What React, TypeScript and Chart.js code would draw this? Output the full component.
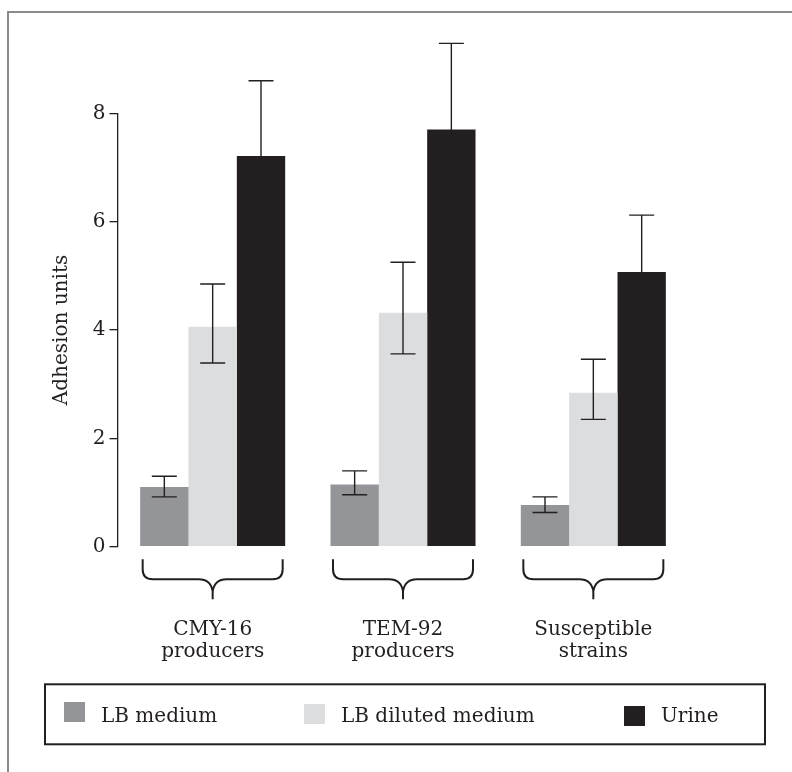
import React, { useEffect, useRef } from "react";
import { Chart, registerables } from "chart.js";

Chart.register(...registerables);

// ---- data ----
const categories: string[][] = [
  ["CMY-16", "producers"],
  ["TEM-92", "producers"],
  ["Susceptible", "strains"],
];
const seriesNames = ["LB medium", "LB diluted medium", "Urine"];

const lbMedium = [1.1, 1.15, 0.77];
const lbMediumHigh = [1.3, 1.4, 0.92];
const lbMediumLow = [0.92, 0.96, 0.63];

const lbDiluted = [4.06, 4.32, 2.84];
const lbDilutedHigh = [4.85, 5.25, 3.46];
const lbDilutedLow = [3.39, 3.56, 2.35];

const urine = [7.21, 7.7, 5.07];
const urineHigh = [8.6, 9.29, 6.12];
const urineLow = [5.82, 6.11, 4.02];

const yTicks = [0, 2, 4, 6, 8];
const yTitle = "Adhesion units";

// ---- styles ----
const FONT = "'DejaVu Serif', serif";
const INK = "#231f20";
const colors = ["#939598", "#dcddde", "#231f20"];

const highs = [lbMediumHigh, lbDilutedHigh, urineHigh];
const lows = [lbMediumLow, lbDilutedLow, urineLow];

const frame = {
  id: "frame",
  beforeDraw(chart: any) {
    const { ctx, width, height } = chart;
    ctx.save();
    ctx.strokeStyle = "#8a8a8a";
    ctx.lineWidth = 2;
    ctx.beginPath();
    ctx.moveTo(8, height);
    ctx.lineTo(8, 12);
    ctx.lineTo(width, 12);
    ctx.stroke();
    ctx.restore();
  },
};

const errorBars = {
  id: "errorBars",
  afterDatasetsDraw(chart: any) {
    const { ctx } = chart;
    const y = chart.scales.y;
    ctx.save();
    ctx.strokeStyle = INK;
    ctx.lineWidth = 1.4;
    chart.data.datasets.forEach((_: any, i: number) => {
      const meta = chart.getDatasetMeta(i);
      meta.data.forEach((el: any, j: number) => {
        const x = el.x;
        const yh = y.getPixelForValue(highs[i][j]);
        const yl = y.getPixelForValue(lows[i][j]);
        const cap = 12.5;
        ctx.beginPath();
        ctx.moveTo(x, yh);
        ctx.lineTo(x, yl);
        ctx.moveTo(x - cap, yh);
        ctx.lineTo(x + cap, yh);
        ctx.moveTo(x - cap, yl);
        ctx.lineTo(x + cap, yl);
        ctx.stroke();
      });
    });
    ctx.restore();
  },
};

const braces = {
  id: "braces",
  afterDraw(chart: any) {
    const { ctx, chartArea } = chart;
    const xs = chart.scales.x;
    const half = 70;
    const r = 10;
    const top = chartArea.bottom + 12.6;
    const mid = top + 20;
    ctx.save();
    ctx.strokeStyle = INK;
    ctx.lineWidth = 2;
    ctx.lineJoin = "round";
    categories.forEach((_, j) => {
      const cx = xs.getPixelForValue(j);
      const L = cx - half;
      const R = cx + half;
      ctx.beginPath();
      ctx.moveTo(L, top);
      ctx.lineTo(L, mid - r);
      ctx.quadraticCurveTo(L, mid, L + r, mid);
      ctx.lineTo(cx - 14, mid);
      ctx.quadraticCurveTo(cx - 2, mid, cx, mid + 12);
      ctx.lineTo(cx, mid + 20);
      ctx.moveTo(R, top);
      ctx.lineTo(R, mid - r);
      ctx.quadraticCurveTo(R, mid, R - r, mid);
      ctx.lineTo(cx + 14, mid);
      ctx.quadraticCurveTo(cx + 2, mid, cx, mid + 12);
      ctx.stroke();
    });
    ctx.restore();
  },
};

const legendBox = {
  id: "legendBox",
  afterDraw(chart: any) {
    const { ctx } = chart;
    const box = { x: 45, y: 684.3, w: 720, h: 60 };
    const swatchX = [64, 304, 624];
    const swatchY = [702, 704, 706];
    ctx.save();
    ctx.strokeStyle = INK;
    ctx.lineWidth = 2;
    ctx.strokeRect(box.x, box.y, box.w, box.h);
    ctx.font = `20px ${FONT}`;
    ctx.textBaseline = "alphabetic";
    ctx.textAlign = "left";
    chart.data.datasets.forEach((ds: any, i: number) => {
      ctx.fillStyle = ds.backgroundColor;
      ctx.fillRect(swatchX[i], swatchY[i], 21, 20);
      ctx.fillStyle = INK;
      ctx.fillText(ds.label, swatchX[i] + 37, 722);
    });
    ctx.restore();
  },
};

export default function App() {
  const ref = useRef<HTMLCanvasElement | null>(null);

  useEffect(() => {
    document.body.style.margin = "0";
    const canvas = ref.current!;
    const values = [lbMedium, lbDiluted, urine];
    const chart = new Chart(canvas, {
      type: "bar",
      data: {
        labels: categories,
        datasets: seriesNames.map((name, i) => ({
          label: name,
          data: values[i],
          backgroundColor: colors[i],
          borderWidth: 0,
          barPercentage: 1,
          categoryPercentage: 0.762,
        })),
      },
      options: {
        animation: false,
        responsive: false,
        devicePixelRatio: 1,
        layout: { padding: { top: 113.3, right: 103.5, left: 0, bottom: 0 } },
        plugins: {
          legend: { display: false },
          tooltip: { enabled: false },
        },
        scales: {
          x: {
            grid: { display: false },
            border: { display: false },
            ticks: {
              color: INK,
              font: { family: FONT, size: 20, lineHeight: 1.1 },
              padding: 64,
              maxRotation: 0,
              autoSkip: false,
            },
            afterFit: (s: any) => {
              s.height = 772 - 546.7;
            },
          },
          y: {
            min: 0,
            max: 8,
            afterBuildTicks: (s: any) => {
              s.ticks = yTicks.map((v) => ({ value: v }));
            },
            afterFit: (s: any) => {
              s.width = 117.5;
            },
            grid: {
              display: true,
              drawOnChartArea: false,
              drawTicks: true,
              tickLength: 8,
              color: INK,
              lineWidth: 1.3,
            },
            border: { display: true, color: INK, width: 1.3 },
            ticks: {
              color: INK,
              font: { family: FONT, size: 20 },
              padding: 4,
            },
            title: {
              display: true,
              text: yTitle,
              color: INK,
              font: { family: FONT, size: 20, lineHeight: 1.2 },
              padding: { top: 50, bottom: 0 },
            },
          },
        },
      },
      plugins: [frame, errorBars, braces, legendBox],
    });
    return () => chart.destroy();
  }, []);

  return (
    <canvas
      ref={ref}
      width={792}
      height={772}
      style={{ display: "block", width: 792, height: 772 }}
    />
  );
}
